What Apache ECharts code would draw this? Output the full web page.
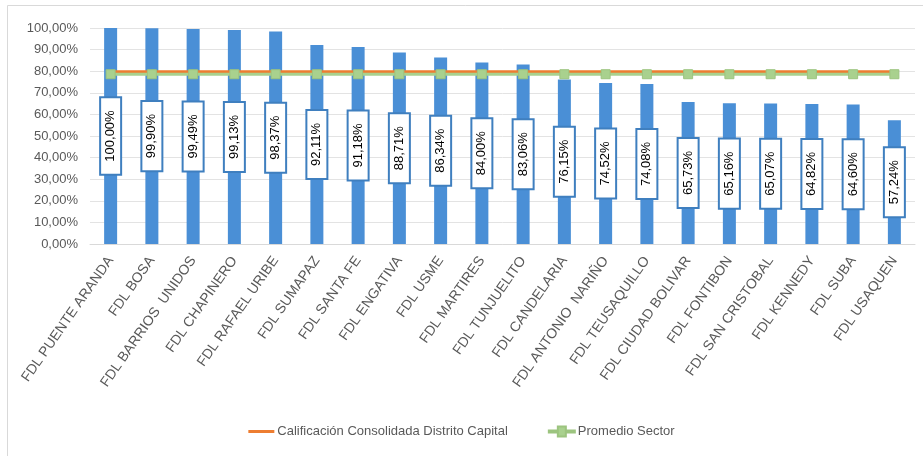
<!DOCTYPE html>
<html lang="es">
<head>
    <meta charset="UTF-8">
    <title>Calificación FDL</title>
    <script type="text/javascript" src="https://cdn.jsdelivr.net/npm/echarts@6/dist/echarts.min.js"></script>
    <style>
        html, body { margin: 0; padding: 0; background: #fff; }
    </style>
</head>
<body>
<div id="main" style="width: 923px;height:456px;"></div>
<script type="text/javascript">
    // datos
    var categorias = ['FDL PUENTE ARANDA', 'FDL BOSA', 'FDL BARRIOS  UNIDOS', 'FDL CHAPINERO', 'FDL RAFAEL URIBE',
        'FDL SUMAPAZ', 'FDL SANTA FE', 'FDL ENGATIVA', 'FDL USME', 'FDL MARTIRES', 'FDL TUNJUELITO',
        'FDL CANDELARIA', 'FDL ANTONIO  NARIÑO', 'FDL TEUSAQUILLO', 'FDL CIUDAD BOLIVAR', 'FDL FONTIBON',
        'FDL SAN CRISTOBAL', 'FDL KENNEDY', 'FDL SUBA', 'FDL USAQUEN'];
    var calificacion = [100.00, 99.90, 99.49, 99.13, 98.37, 92.11, 91.18, 88.71, 86.34, 84.00, 83.06,
        76.15, 74.52, 74.08, 65.73, 65.16, 65.07, 64.82, 64.60, 57.24];
    var consolidadaDistrito = [79.8, 79.8, 79.8, 79.8, 79.8, 79.8, 79.8, 79.8, 79.8, 79.8, 79.8,
        79.8, 79.8, 79.8, 79.8, 79.8, 79.8, 79.8, 79.8, 79.8];
    var promedioSector = [78.6, 78.6, 78.6, 78.6, 78.6, 78.6, 78.6, 78.6, 78.6, 78.6, 78.6,
        78.6, 78.6, 78.6, 78.6, 78.6, 78.6, 78.6, 78.6, 78.6];
    var nombresSeries = ['Calificación Consolidada Distrito Capital', 'Promedio Sector'];

    var fuente = '"Liberation Sans", Arial, sans-serif';

    function pct(v) {
        return v.toFixed(2).replace('.', ',') + '%';
    }

    var option = {
        animation: false,
        backgroundColor: '#fff',
        graphic: [{
            type: 'rect',
            shape: { x: 7.5, y: 5.5, width: 930, height: 470 },
            style: { fill: 'none', stroke: '#d9d9d9', lineWidth: 1 },
            silent: true
        }],
        grid: {
            left: 90,
            right: 8,
            top: 28,
            bottom: 212,
            containLabel: false
        },
        legend: {
            // iconos a mano: linea sola y linea con cuadro
            data: [
                { name: nombresSeries[0], icon: 'path://M0,0 H26 V3 H0 Z' },
                { name: nombresSeries[1], icon: 'path://M0,4 H9 V0 H17 V4 H26 V6 H17 V10 H9 V6 H0 Z' }
            ],
            left: 'center',
            top: 420,
            itemWidth: 26,
            itemHeight: 10,
            itemGap: 40,
            textStyle: { fontFamily: fuente, fontSize: 13, color: '#595959', padding: [0, 0, 0, -2] }
        },
        xAxis: {
            type: 'category',
            data: categorias,
            axisTick: { show: false },
            axisLine: { lineStyle: { color: '#d9d9d9' } },
            axisLabel: {
                interval: 0,
                rotate: 55,
                margin: 14,
                fontFamily: fuente,
                fontSize: 14,
                color: '#595959'
            }
        },
        yAxis: {
            type: 'value',
            min: 0,
            max: 100,
            interval: 10,
            axisLine: { show: false },
            axisTick: { show: false },
            splitLine: { lineStyle: { color: '#e3e3e3' } },
            axisLabel: {
                formatter: pct,
                margin: 12,
                fontFamily: fuente,
                fontSize: 13,
                color: '#595959'
            }
        },
        series: [
            {
                name: 'Calificación',
                type: 'bar',
                data: calificacion,
                barWidth: 13,
                itemStyle: { color: '#4a8fd6' },
                label: {
                    show: true,
                    position: 'inside',
                    rotate: 90,
                    formatter: function (p) { return pct(p.value); },
                    fontFamily: fuente,
                    fontSize: 13,
                    color: '#000',
                    backgroundColor: '#fff',
                    borderColor: '#3f7fbf',
                    borderWidth: 2,
                    padding: [3, 12]
                },
                z: 2
            },
            {
                name: nombresSeries[0],
                type: 'line',
                data: consolidadaDistrito,
                symbol: 'none',
                lineStyle: { color: '#ed7d31', width: 3 },
                itemStyle: { color: '#ed7d31' },
                z: 3
            },
            {
                name: nombresSeries[1],
                type: 'line',
                data: promedioSector,
                symbol: 'rect',
                symbolSize: 9,
                lineStyle: { color: '#a9d18e', width: 3 },
                itemStyle: { color: '#a9d18e', borderColor: '#9cc47f', borderWidth: 1 },
                z: 4
            }
        ]
    };

    var myChart = echarts.init(document.getElementById('main'));
    myChart.setOption(option);
</script>
</body>
</html>
